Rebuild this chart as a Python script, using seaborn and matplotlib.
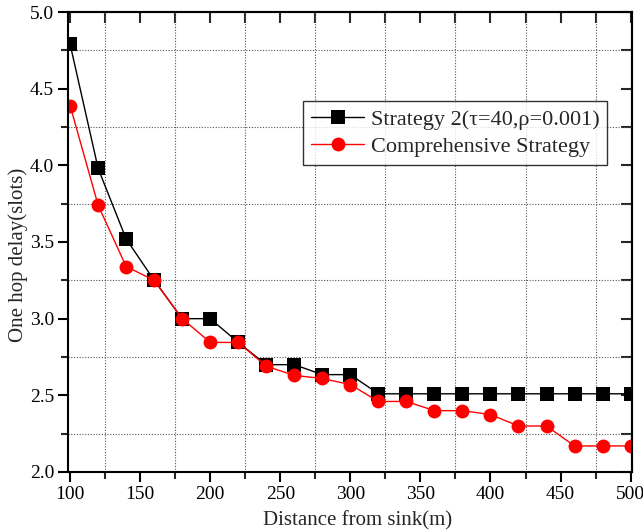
import numpy as np
import pandas as pd
import matplotlib
matplotlib.use("Agg")
import matplotlib.pyplot as plt
from matplotlib.ticker import MultipleLocator, FormatStrFormatter
import seaborn as sns

distance = [100, 120, 140, 160, 180, 200, 220, 240, 260, 280, 300,
            320, 340, 360, 380, 400, 420, 440, 460, 480, 500]
strategy2 = [4.79, 3.98, 3.52, 3.25, 3.00, 3.00, 2.845, 2.70, 2.70, 2.635, 2.635,
             2.51, 2.51, 2.51, 2.51, 2.51, 2.51, 2.51, 2.51, 2.51, 2.51]
comprehensive = [4.39, 3.74, 3.34, 3.25, 3.00, 2.845, 2.845, 2.69, 2.63, 2.61, 2.57,
                 2.46, 2.46, 2.40, 2.40, 2.375, 2.30, 2.30, 2.17, 2.17, 2.17]
series_names = ["Strategy 2(\u03c4=40,\u03c1=0.001)", "Comprehensive Strategy"]

df = pd.DataFrame({
    "distance": distance * 2,
    "delay": strategy2 + comprehensive,
    "series": [series_names[0]] * len(distance) + [series_names[1]] * len(distance),
})

sns.set_style("ticks")
plt.rcParams["font.family"] = ["Liberation Serif", "DejaVu Serif"]

fig = plt.figure(figsize=(6.43, 5.32), dpi=100)
ax = fig.add_axes([68 / 643, 60 / 532, 564 / 643, 460 / 532])

sns.lineplot(data=df, x="distance", y="delay", hue="series", style="series",
             palette={series_names[0]: "black", series_names[1]: "red"},
             markers={series_names[0]: "s", series_names[1]: "o"},
             dashes=False, markersize=10, markeredgewidth=0, linewidth=1,
             ax=ax)

ax.set_xlim(98.5, 501)
ax.set_ylim(2.0, 5.0)
ax.xaxis.set_major_locator(MultipleLocator(50))
ax.xaxis.set_minor_locator(MultipleLocator(25))
ax.yaxis.set_major_locator(MultipleLocator(0.5))
ax.yaxis.set_minor_locator(MultipleLocator(0.25))
ax.yaxis.set_major_formatter(FormatStrFormatter("%.1f"))

ax.grid(False, which="major")
ax.grid(True, which="minor", linestyle=(0, (1, 1.5)), color="#555555", linewidth=0.8)

for s in ax.spines.values():
    s.set_linewidth(1.5)
    s.set_color("black")

ax.tick_params(axis="both", which="major", direction="out", length=7, width=1.5,
               labelsize=14, colors="black", pad=3)
ax.tick_params(axis="both", which="minor", direction="out", length=5, width=1.5)

# inward ticks on the top and right edges
top = ax.secondary_xaxis("top")
top.set_xticks(np.arange(100, 501, 50))
top.xaxis.set_minor_locator(MultipleLocator(25))
top.tick_params(which="both", direction="in", length=8, width=1.5, labeltop=False)
right = ax.secondary_yaxis("right")
right.set_yticks(np.arange(2.0, 5.01, 0.5))
right.yaxis.set_minor_locator(MultipleLocator(0.25))
right.tick_params(which="both", direction="in", length=8, width=1.5, labelright=False)
for sec in (top, right):
    for s in sec.spines.values():
        s.set_linewidth(1.5)

ax.set_xlabel("Distance from sink(m)", fontsize=15)
ax.xaxis.set_label_coords(0.514, -0.085)
ax.set_ylabel("One hop delay(slots)", fontsize=15)
ax.yaxis.set_label_coords(-0.071, 0.472)

handles, labels = ax.get_legend_handles_labels()
leg = ax.legend(handles, labels, loc="upper left", bbox_to_anchor=(0.417, 0.806),
                fontsize=16, frameon=True, fancybox=False, edgecolor="black",
                handlelength=2.4, handletextpad=0.3, borderpad=0.35,
                labelspacing=0.3, borderaxespad=0)
leg.get_frame().set_linewidth(1.0)

fig.savefig("out.png", dpi=100)
